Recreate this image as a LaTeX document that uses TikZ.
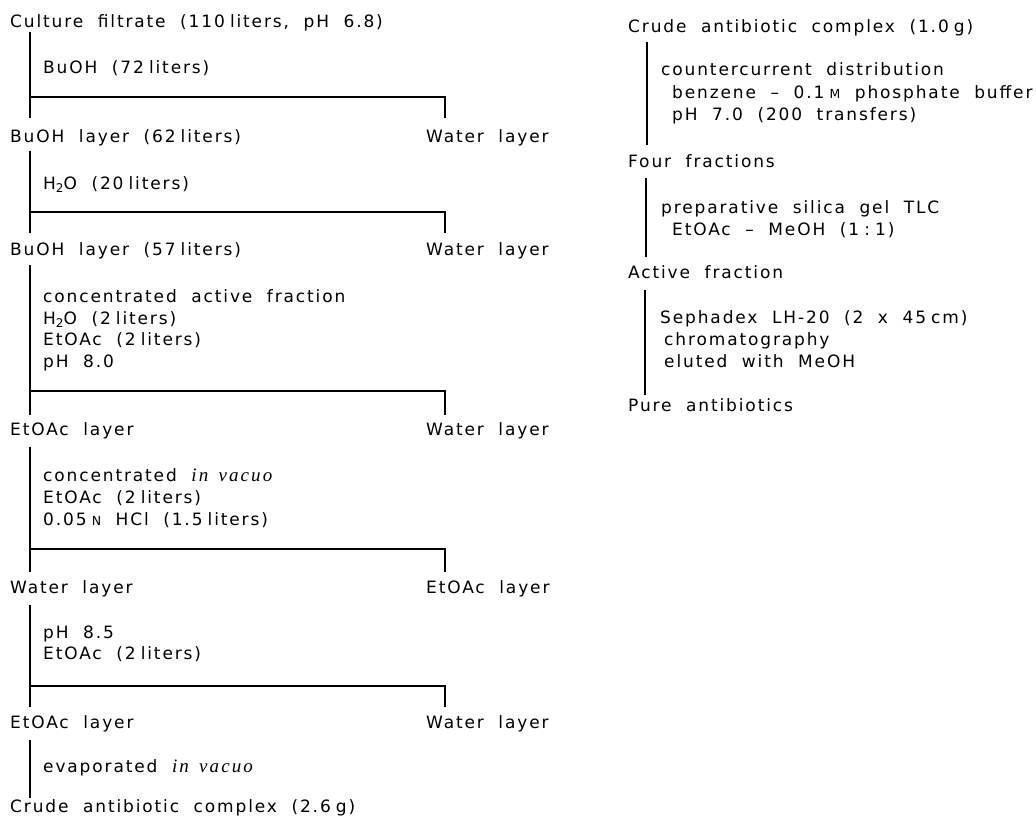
\documentclass[tikz,border=0pt]{standalone}
\usepackage{fontspec}
\setmainfont{DejaVu Sans}[LetterSpace=11,WordSpace=2]
\newfontfamily\ivfont{Liberation Serif}[LetterSpace=11,WordSpace=1.5]
\newcommand{\lowtwo}{\raisebox{-0.35ex}{\fontsize{12}{12}\selectfont 2}}
\newcommand{\smc}[1]{{\fontsize{12.5}{12.5}\selectfont #1}}
\newcommand{\ns}{\hspace{0.3em}}
\newcommand{\iv}{{\ivfont\itshape\fontsize{19}{22}\selectfont in vacuo}}
\begin{document}
\begin{tikzpicture}[x=1pt,y=-1pt,
  lbl/.style={anchor=base west, inner sep=0pt, font=\fontsize{17}{22}\selectfont},
  ln/.style={line width=1.9pt, line cap=butt}]
\useasboundingbox (0,0) rectangle (1036,823);
% ---------- left column ----------
\node[lbl] (l0) at (10,27) {Culture filtrate (110\ns liters, pH 6.8)};
\node[lbl] (t1) at (43,73) {BuOH (72\ns liters)};
\node[lbl] (l1) at (10,142) {BuOH layer (62\ns liters)};
\node[lbl] (r1) at (426,142) {Water layer};
\node[lbl] (t2) at (43,189) {H\lowtwo O (20\ns liters)};
\node[lbl] (l2) at (10,255) {BuOH layer (57\ns liters)};
\node[lbl] (r2) at (426,255) {Water layer};
\node[lbl] (t3a) at (43,302) {concentrated active fraction};
\node[lbl] (t3b) at (43,324) {H\lowtwo O (2\ns liters)};
\node[lbl] (t3c) at (43,345) {EtOAc (2\ns liters)};
\node[lbl] (t3d) at (43,367) {pH 8.0};
\node[lbl] (l3) at (10,435) {EtOAc layer};
\node[lbl] (r3) at (426,435) {Water layer};
\node[lbl] (t4a) at (43,481) {concentrated \iv};
\node[lbl] (t4b) at (43,503) {EtOAc (2\ns liters)};
\node[lbl] (t4c) at (43,525) {0.05\ns\smc{N} HCl (1.5\ns liters)};
\node[lbl] (l4) at (10,593) {Water layer};
\node[lbl] (r4) at (426,593) {EtOAc layer};
\node[lbl] (t5a) at (43,638) {pH 8.5};
\node[lbl] (t5b) at (43,659) {EtOAc (2\ns liters)};
\node[lbl] (l5) at (10,728) {EtOAc layer};
\node[lbl] (r5) at (426,728) {Water layer};
\node[lbl] (t6) at (43,772) {evaporated \iv};
\node[lbl] (l6) at (10,812) {Crude antibiotic complex (2.6\ns g)};
% junctions
\coordinate (a1) at (30,32);  \coordinate (b1) at (30,118); \coordinate (h1) at (445,97);  \coordinate (e1) at (445,118);
\coordinate (a2) at (30,151); \coordinate (b2) at (30,233); \coordinate (h2) at (445,212); \coordinate (e2) at (445,233);
\coordinate (a3) at (30,265); \coordinate (b3) at (30,415); \coordinate (h3) at (445,391); \coordinate (e3) at (445,415);
\coordinate (a4) at (30,447); \coordinate (b4) at (30,572); \coordinate (h4) at (445,549); \coordinate (e4) at (445,572);
\coordinate (a5) at (30,605); \coordinate (b5) at (30,707); \coordinate (h5) at (445,686); \coordinate (e5) at (445,707);
\coordinate (a6) at (30,740); \coordinate (b6) at (30,798);
\foreach \i in {1,...,5}{
  \draw[ln] (a\i) -- (b\i);
  \draw[ln] (a\i |- h\i) -- (h\i) -- (e\i);
}
\draw[ln] (a6) -- (b6);
% ---------- right column ----------
\node[lbl] (q0) at (628,32) {Crude antibiotic complex (1.0\ns g)};
\node[lbl] (s1a) at (661,75) {countercurrent distribution};
\node[lbl] (s1b) at (672,98) {benzene -- 0.1\ns\smc{M} phosphate buffer};
\node[lbl] (s1c) at (672,120) {pH 7.0 (200 transfers)};
\node[lbl] (q1) at (628,167) {Four fractions};
\node[lbl] (s2a) at (661,213) {preparative silica gel TLC};
\node[lbl] (s2b) at (672,235) {EtOAc -- MeOH (1\ns:\ns1)};
\node[lbl] (q2) at (628,278) {Active fraction};
\node[lbl] (s3a) at (660,323) {Sephadex LH-20 (2 x 45\ns cm)};
\node[lbl] (s3b) at (664,345) {chromatography};
\node[lbl] (s3c) at (664,367) {eluted with MeOH};
\node[lbl] (q3) at (628,411) {Pure antibiotics};
\coordinate (c1) at (647,42);  \coordinate (d1) at (647,145);
\coordinate (c2) at (646,178); \coordinate (d2) at (646,257);
\coordinate (c3) at (645,290); \coordinate (d3) at (645,395);
\foreach \i in {1,2,3}{ \draw[ln] (c\i) -- (d\i); }
\end{tikzpicture}
\end{document}
